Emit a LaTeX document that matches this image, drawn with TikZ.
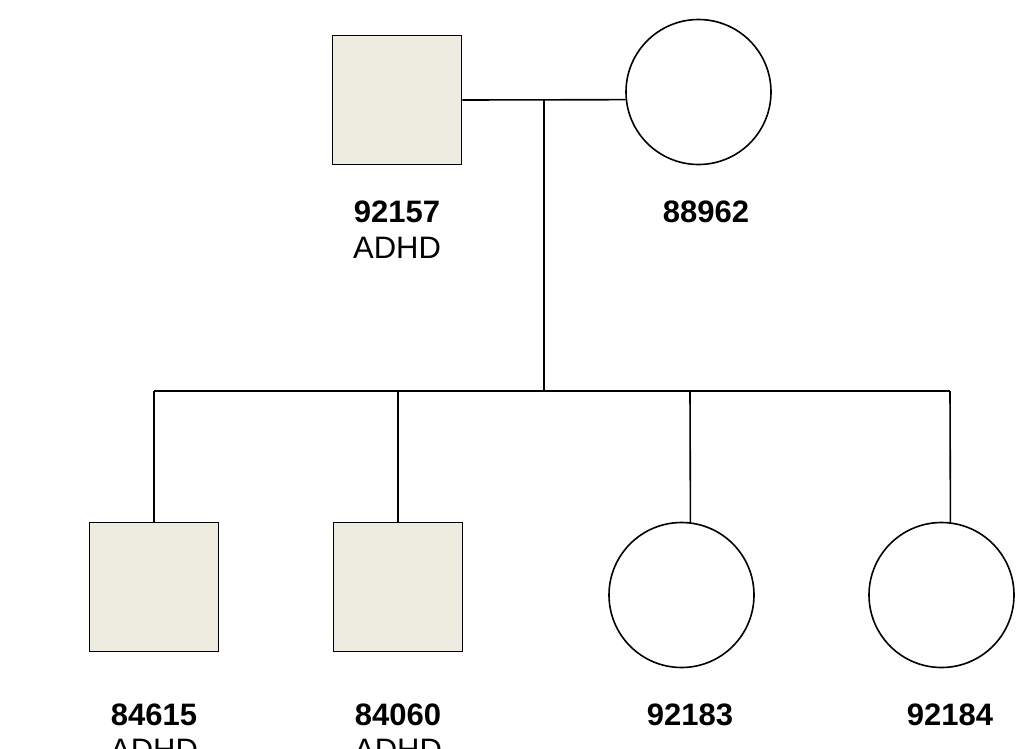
\documentclass[tikz,border=0pt]{standalone}
\usepackage{fontspec}
\setmainfont{Liberation Sans}
\definecolor{affected}{RGB}{238,235,224}
\begin{document}
\begin{tikzpicture}[x=1pt,y=-1pt,
  male/.style={draw=black, line width=1.6pt, fill=affected, rectangle, minimum size=129pt, inner sep=0pt},
  female/.style={draw=black, line width=1.6pt, fill=white, circle, minimum size=145pt, inner sep=0pt},
  conn/.style={draw=black, line width=1.6pt},
  idlabel/.style={anchor=base, inner sep=0pt, font=\fontsize{31}{36}\selectfont\bfseries},
  dxlabel/.style={anchor=base, inner sep=0pt, font=\fontsize{31}{36}\selectfont}]
\useasboundingbox[fill=white] (0,0) rectangle (1034,748);
\clip (0,0) rectangle (1034,748);
% parents
\node[male] (f) at (397,100) {};
\node[female] (m) at (698.5,92) {};
% children
\node[male] (c1) at (154,587) {};
\node[male] (c2) at (398,587) {};
\node[female] (c3) at (681.5,595) {};
\node[female] (c4) at (941.5,595) {};
% coordinates
\coordinate (mid) at (544,100);
\coordinate (sib) at (544,391);
\coordinate (d1) at (154,391);
\coordinate (d2) at (398,391);
\coordinate (d3) at (690,391);
\coordinate (d4) at (950,391);
% connectors
\draw[conn] (f.east) -- (m.186);
\draw[conn] (mid) -- (sib);
\draw[conn] (d1) -- (d4);
\draw[conn] (d1) -- (c1.north);
\draw[conn] (d2) -- (c2.north);
\draw[conn] (d3) -- (c3.83);
\draw[conn] (d4) -- (c4.83);
% labels
\node[idlabel] (lf) at (397,222) {92157};
\node[dxlabel] (lfd) at (397,258) {ADHD};
\node[idlabel] (lm) at (706,222) {88962};
\node[idlabel] (l1) at (154,725) {84615};
\node[dxlabel] (l1d) at (154,760) {ADHD};
\node[idlabel] (l2) at (398,725) {84060};
\node[dxlabel] (l2d) at (398,760) {ADHD};
\node[idlabel] (l3) at (690,725) {92183};
\node[idlabel] (l4) at (950,725) {92184};
\end{tikzpicture}
\end{document}
